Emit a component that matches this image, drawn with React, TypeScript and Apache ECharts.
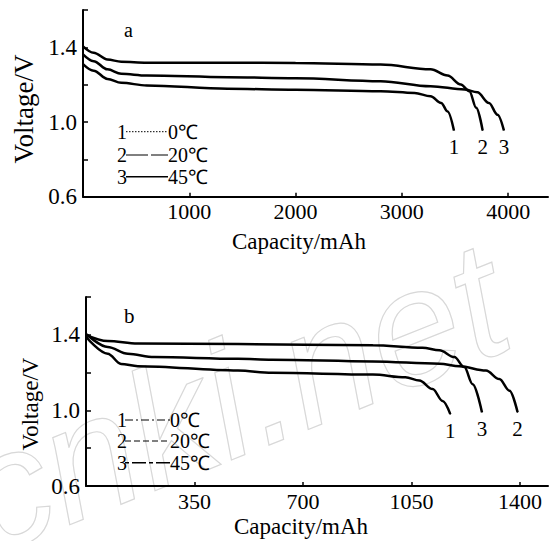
import React, { useEffect, useRef } from "react";
import * as echarts from "echarts";

// ---------- data ----------
const legendTemps = ["0℃", "20℃", "45℃"];
const curveIds = ["1", "2", "3"];

// Panel a: capacity (mAh) vs voltage (V)
const aCurve1: [number, number][] = [
  [0, 1.31], [100, 1.275], [230, 1.231], [360, 1.21], [600, 1.196], [1360, 1.178],
  [2000, 1.173], [2800, 1.165], [3120, 1.156], [3270, 1.138], [3370, 1.102], [3430, 1.057], [3490, 0.955],
];
const aCurve2: [number, number][] = [
  [0, 1.405], [100, 1.371], [230, 1.335], [360, 1.323], [600, 1.318], [1360, 1.318],
  [2000, 1.316], [2800, 1.308], [3270, 1.282], [3430, 1.249], [3555, 1.201], [3635, 1.165], [3700, 1.076], [3760, 0.955],
];
const aCurve3: [number, number][] = [
  [0, 1.362], [100, 1.326], [230, 1.282], [360, 1.258], [600, 1.249], [1360, 1.24],
  [2000, 1.235], [2800, 1.219], [3270, 1.192], [3590, 1.174], [3710, 1.159], [3820, 1.102], [3900, 1.039], [3960, 0.955],
];

// Panel b
const bCurve1: [number, number][] = [
  [0, 1.39], [70, 1.3], [113, 1.246], [167, 1.234], [490, 1.211], [600, 1.199], [925, 1.19],
  [1030, 1.175], [1075, 1.158], [1118, 1.113], [1150, 1.05], [1175, 0.98],
];
const bCurve2: [number, number][] = [
  [0, 1.405], [70, 1.336], [135, 1.3], [220, 1.282], [490, 1.273], [600, 1.268], [925, 1.259],
  [1140, 1.247], [1205, 1.233], [1290, 1.211], [1333, 1.166], [1366, 1.104], [1392, 0.99],
];
const bCurve3: [number, number][] = [
  [0, 1.4], [70, 1.367], [167, 1.354], [490, 1.351], [925, 1.345], [1085, 1.332],
  [1140, 1.318], [1188, 1.282], [1220, 1.229], [1247, 1.139], [1277, 0.99],
];

const xTicksA = [1000, 2000, 3000, 4000];
const xTicksB = [350, 700, 1050, 1400];
const yTicks = [0.6, 0.8, 1.0, 1.2, 1.4, 1.6];
const yTickLabels = [0.6, 1.0, 1.4];

const SERIF = "Liberation Serif, Times New Roman, serif";

function buildSeries(data: [number, number][], label: string, axisIndex: number): any {
  const items = data.map((d, i) =>
    i === data.length - 1
      ? {
          value: d,
          label: {
            show: true,
            formatter: label,
            position: "bottom",
            distance: 6,
            fontSize: 21,
            fontFamily: SERIF,
            color: "#000",
          },
        }
      : { value: d }
  );
  return {
    type: "line",
    xAxisIndex: axisIndex,
    yAxisIndex: axisIndex,
    data: items,
    smooth: 0.35,
    smoothMonotone: "x",
    symbol: "circle",
    symbolSize: 1,
    showSymbol: true,
    showAllSymbol: true,
    itemStyle: { color: "#000" },
    lineStyle: { color: "#000", width: 2.5 },
    z: 5,
  };
}

function xAxisCfg(grid: number, max: number, ticks: number[]): any {
  return {
    type: "value",
    gridIndex: grid,
    min: 0,
    max,
    axisLine: { show: true, lineStyle: { color: "#000", width: 2 } },
    axisTick: { show: true, inside: true, length: 4, lineStyle: { color: "#000", width: 1.5 }, customValues: ticks },
    axisLabel: {
      customValues: ticks,
      formatter: (v: number) => String(v),
      color: "#000",
      fontFamily: SERIF,
      fontSize: 22,
      margin: 4,
    },
    splitLine: { show: false },
  };
}

function yAxisCfg(grid: number): any {
  return {
    type: "value",
    gridIndex: grid,
    min: 0.6,
    max: 1.6,
    axisLine: { show: true, lineStyle: { color: "#000", width: 2 } },
    axisTick: { show: true, inside: true, length: 5, lineStyle: { color: "#000", width: 1.5 }, customValues: yTicks },
    axisLabel: {
      customValues: yTickLabels,
      formatter: (v: number) => v.toFixed(1),
      color: "#000",
      fontFamily: SERIF,
      fontSize: 23,
      margin: 6,
    },
    splitLine: { show: false },
  };
}

function txt(x: number, y: number, text: string, size: number, extra: any = {}): any {
  return {
    type: "text",
    x,
    y,
    ...extra,
    style: {
      text,
      fontSize: size,
      fontFamily: SERIF,
      fill: "#000",
      align: extra.align || "left",
      verticalAlign: "middle",
    },
  };
}

function legendBlock(rowsY: number[], lineStart: number, lineEnd: number, dashes: (number[] | null)[]): any[] {
  const els: any[] = [];
  rowsY.forEach((y, i) => {
    els.push(txt(117, y, curveIds[i], 20));
    els.push({
      type: "line",
      shape: { x1: lineStart, y1: y, x2: lineEnd, y2: y },
      style: { stroke: "#000", lineWidth: i === 2 ? 1.5 : 1, lineDash: dashes[i] || undefined },
    });
    els.push(txt(lineEnd, y, legendTemps[i], 20));
  });
  return els;
}

export default function App() {
  const ref = useRef<HTMLDivElement>(null);
  useEffect(() => {
    if (!ref.current) return;
    const chart = echarts.init(ref.current, undefined, { renderer: "svg" });
    const graphic: any[] = [
      {
        type: "text",
        x: 0,
        y: 580,
        rotation: 0.38,
        z: -10,
        silent: true,
        style: {
          text: "cnki.net",
          fontSize: 165,
          fontStyle: "italic",
          fontFamily: "Liberation Sans",
          fill: "rgba(0,0,0,0)",
          stroke: "#d8d8d8",
          lineWidth: 1.2,
          verticalAlign: "bottom",
          align: "left",
        },
      },
      txt(124, 30, "a", 20),
      txt(124, 316, "b", 21),
      txt(24, 109, "Voltage/V", 27, { rotation: Math.PI / 2, align: "center" }),
      txt(30, 404, "Voltage/V", 23, { rotation: Math.PI / 2, align: "center" }),
      txt(299, 241, "Capacity/mAh", 23, { align: "center" }),
      txt(301, 526, "Capacity/mAh", 23, { align: "center" }),
      ...legendBlock([131.7, 155, 176.7], 126, 168, [[1.5, 1.5], [22, 3], null]),
      ...legendBlock([420, 441, 462.7], 125, 170, [[8, 3, 2, 3], [6, 3], [4, 3, 14, 3]]),
    ];

    chart.setOption({
      animation: false,
      backgroundColor: "#fff",
      grid: [
        { left: 83, top: 10, width: 465, height: 186.7 },
        { left: 86, top: 297, width: 462, height: 189 },
      ],
      xAxis: [xAxisCfg(0, 4375, xTicksA), xAxisCfg(1, 1490, xTicksB)],
      yAxis: [yAxisCfg(0), yAxisCfg(1)],
      series: [
        buildSeries(aCurve1, curveIds[0], 0),
        buildSeries(aCurve2, curveIds[1], 0),
        buildSeries(aCurve3, curveIds[2], 0),
        buildSeries(bCurve1, curveIds[0], 1),
        buildSeries(bCurve2, curveIds[1], 1),
        buildSeries(bCurve3, curveIds[2], 1),
      ],
      graphic,
    });
    return () => chart.dispose();
  }, []);
  return (
    <div
      ref={ref}
      style={{ position: "absolute", left: 0, top: 0, width: 554, height: 541, background: "#fff" }}
    />
  );
}
